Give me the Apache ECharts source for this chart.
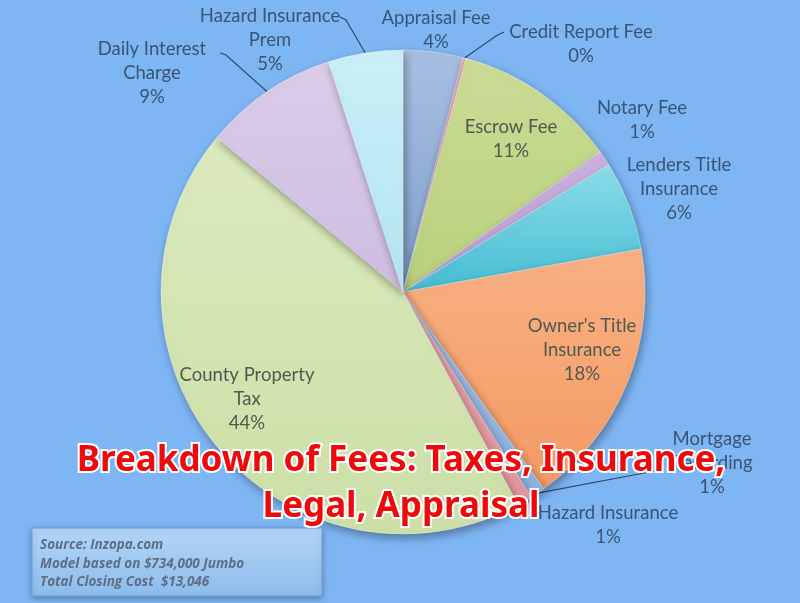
<!DOCTYPE html>
<html>
<head>
<meta charset="utf-8">
<script src="https://cdn.jsdelivr.net/npm/echarts@6/dist/echarts.min.js"></script>
<style>
html,body{margin:0;padding:0;background:#7EB6F4;}
#chart{width:800px;height:603px;}
</style>
</head>
<body>
<div id="chart"></div>
<script>
// ---- data ----
var categories = [
  'Appraisal Fee', 'Credit Report Fee', 'Escrow Fee', 'Notary Fee',
  'Lenders Title Insurance', "Owner's Title Insurance", 'Mortgage Recording',
  'Hazard Insurance', 'County Property Tax', 'Daily Interest Charge', 'Hazard Insurance Prem'
];
var labelTexts = [
  'Appraisal Fee', 'Credit Report Fee', 'Escrow Fee', 'Notary Fee',
  'Lenders Title\nInsurance', "Owner's Title\nInsurance", 'Mortgage\nRecording',
  'Hazard Insurance', 'County Property\nTax', 'Daily Interest\nCharge', 'Hazard Insurance\nPrem'
];
var percentValues = [4, 0.2, 11, 1, 6, 18, 1, 1, 44, 9, 5];
var titleLines = ['Breakdown of Fees: Taxes, Insurance,', 'Legal, Appraisal'];
var sourceLines = ['Source: Inzopa.com', 'Model based on $734,000 Jumbo', 'Total Closing Cost  $13,046'];

// ---- styling / layout (not data) ----
var sliceColors = [
  ['#A9BFE2', '#7F9FCB'], ['#F2A7B8', '#E890A4'], ['#CBDD96', '#B9D07C'], ['#CDB3E0', '#B89AD2'],
  ['#8EDDEA', '#45BDD2'], ['#F9B184', '#F39A63'], ['#A6C4EC', '#8CB0E0'], ['#EFA9AE', '#E4959C'],
  ['#DCEABE', '#CCDFA6'], ['#DCCDE9', '#CDBCE0'], ['#CBF0F8', '#B2E5F1']
];
var insideIdx = [2, 5, 8];
var CX = 403, CY = 292, R = 242;
// label anchor offsets from the pie centre
var labelOffsets = [
  [33, -262], [178, -248], [108, -153], [239, -172], [276, -103], [179, 58],
  [309, 171], [205, 233], [-156, 107], [-251, -219], [-133, -252]
];
// leader line elbows (offsets from pie centre), null = no line
var lineElbows = [
  null, [[93, -256], [101, -260]], null, null, null, null,
  [[257, 178]], null, null, [[-177, -237], [-183, -239]], [[-57, -272], [-63, -275]]
];

var total = percentValues.reduce(function (a, b) { return a + b; }, 0);
var midAngles = [];
(function () {
  var acc = 0;
  for (var i = 0; i < percentValues.length; i++) {
    var a = percentValues[i] / total * 360;
    midAngles.push(acc + a / 2);
    acc += a;
  }
})();

var seriesData = categories.map(function (c, i) {
  var inside = insideIdx.indexOf(i) >= 0;
  return {
    name: c,
    value: percentValues[i],
    itemStyle: {
      color: {
        type: 'linear', x: 0, y: 0, x2: 0, y2: 1,
        colorStops: [{ offset: 0, color: sliceColors[i][0] }, { offset: 1, color: sliceColors[i][1] }]
      }
    },
    label: { color: inside ? '#505A50' : '#3A5477' },
    labelLine: { show: !!lineElbows[i] }
  };
});

var chart = echarts.init(document.getElementById('chart'));
chart.setOption({
  backgroundColor: '#7EB6F4',
  animation: false,
  series: [{
    type: 'pie',
    center: [CX, CY],
    radius: R,
    startAngle: 90,
    clockwise: true,
    percentPrecision: 0,
    data: seriesData,
    itemStyle: {
      borderColor: 'rgba(255,255,255,0.35)',
      borderWidth: 1,
      shadowBlur: 10,
      shadowColor: 'rgba(0,0,0,0.35)',
      shadowOffsetX: 2,
      shadowOffsetY: 4
    },
    label: {
      show: true,
      position: 'outside',
      overflow: 'none',
      width: 300,
      formatter: function (p) {
        return labelTexts[p.dataIndex] + '\n' + Math.round(p.percent) + '%';
      },
      fontFamily: 'Lato',
      fontSize: 18.5,
      lineHeight: 24,
      align: 'center'
    },
    labelLine: {
      lineStyle: { color: '#2E4A6E', width: 1.2 },
      smooth: false
    },
    labelLayout: function (p) {
      var i = p.dataIndex;
      var off = labelOffsets[i];
      var res = {
        x: CX + off[0],
        y: CY + off[1],
        align: 'center',
        verticalAlign: 'middle'
      };
      if (lineElbows[i]) {
        var a = midAngles[i] * Math.PI / 180;
        var pts = [[CX + R * Math.sin(a), CY - R * Math.cos(a)]];
        lineElbows[i].forEach(function (e) { pts.push([CX + e[0], CY + e[1]]); });
        if (pts.length === 2) pts.push(pts[1]);
        res.labelLinePoints = pts;
      }
      return res;
    }
  }],
  graphic: [{
    type: 'text',
    x: 401,
    y: 438,
    z: 100,
    style: {
      text: titleLines.join('\n'),
      align: 'center',
      verticalAlign: 'top',
      fontFamily: 'Noto Sans',
      fontWeight: 'bold',
      fontSize: 35,
      lineHeight: 46,
      fill: '#EE0A0A',
      stroke: '#FFFFFF',
      lineWidth: 4
    }
  }, {
    type: 'rect',
    shape: { x: 32, y: 528, width: 290, height: 68 },
    style: {
      fill: {
        type: 'linear', x: 0, y: 0, x2: 0, y2: 1,
        colorStops: [{ offset: 0, color: '#B3D6F8' }, { offset: 1, color: '#8DBCEB' }]
      },
      stroke: '#6C9ED6',
      lineWidth: 1,
      shadowBlur: 6,
      shadowColor: 'rgba(0,0,0,0.3)',
      shadowOffsetY: 2
    },
    z: 50
  }, {
    type: 'text',
    x: 40,
    y: 536,
    z: 51,
    style: {
      text: sourceLines.join('\n'),
      fontFamily: 'Open Sans',
      fontStyle: 'italic',
      fontWeight: 'bold',
      fontSize: 13.5,
      lineHeight: 18.5,
      fill: '#5D6E86'
    }
  }]
});
</script>
</body>
</html>
